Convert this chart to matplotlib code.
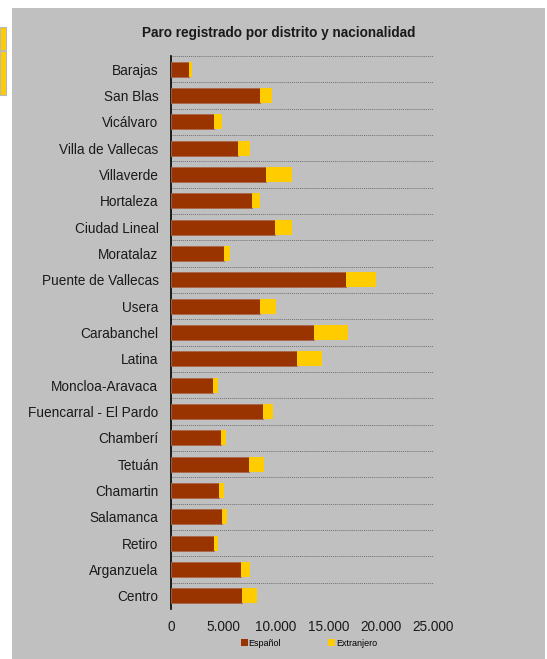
import matplotlib
matplotlib.use("Agg")
import matplotlib.pyplot as plt
from matplotlib.patches import Rectangle, Patch

plt.rcParams['font.family'] = ['Liberation Sans', 'DejaVu Sans']

districts = ["Barajas", "San Blas", "Vicálvaro", "Villa de Vallecas", "Villaverde",
             "Hortaleza", "Ciudad Lineal", "Moratalaz", "Puente de Vallecas", "Usera",
             "Carabanchel", "Latina", "Moncloa-Aravaca", "Fuencarral - El Pardo",
             "Chamberí", "Tetuán", "Chamartin", "Salamanca", "Retiro", "Arganzuela", "Centro"]
espanol = [1720, 8460, 4070, 6420, 9060, 7730, 9890, 5060, 16660, 8460,
           13640, 12020, 3980, 8810, 4740, 7410, 4610, 4870, 4130, 6710, 6740]
extranjero = [280, 1180, 760, 1150, 2480, 760, 1620, 540, 2890, 1530,
              3280, 2390, 510, 950, 480, 1460, 410, 510, 350, 830, 1490]
xticks = [0, 5000, 10000, 15000, 20000, 25000]
xticklabels = ["0", "5.000", "10.000", "15.000", "20.000", "25.000"]
title = "Paro registrado por distrito y nacionalidad"

W, H = 547, 659
fig = plt.figure(figsize=(W / 100, H / 100), dpi=100)
fig.patch.set_facecolor("white")

def px(x0, y0, w, h):
    return (x0 / W, 1 - (y0 + h) / H, w / W, h / H)

# chart area background
bx, by, bw, bh = px(12, 8, 533, 651)
fig.patches.append(Rectangle((bx, by), bw, bh, transform=fig.transFigure,
                             facecolor="#C0C0C0", edgecolor="none", zorder=-5))
# cut-off spreadsheet cells on the left
for (y0, h) in [(27, 23), (51, 44)]:
    cx, cy, cw, ch = px(0, y0, 5.5, h)
    fig.patches.append(Rectangle((cx, cy), cw, ch, transform=fig.transFigure,
                                 facecolor="#FFCC00", edgecolor="#B8B8B8", lw=0.8, zorder=-5))

ax = fig.add_axes(px(171, 56, 262, 553))
ax.set_zorder(1)
ax.set_facecolor("#C0C0C0")
n = len(districts)
pos = list(range(n))
ax.barh(pos, espanol, height=0.58, color="#993300", edgecolor="#A8664A", linewidth=0.6, zorder=3)
ax.barh(pos, extranjero, left=espanol, height=0.58, color="#FFCC00", edgecolor="none", zorder=3)
ax.set_ylim(n - 0.5, -0.5)
ax.set_xlim(0, 25000)
ax.set_yticks(pos)
ax.set_yticklabels(districts, fontsize=9.8, color="#1a1a1a")
ax.set_yticks([i - 0.5 for i in range(n + 1)], minor=True)
ax.grid(which="minor", axis="y", color="#707070", linestyle=(0, (1, 1)), linewidth=0.7, zorder=1)
ax.set_xticks(xticks)
ax.set_xticklabels(xticklabels, fontsize=9.8, color="#1a1a1a")
ax.tick_params(axis="y", which="both", length=0, pad=9)
ax.tick_params(axis="x", length=0, pad=8)
for s in ["top", "right", "bottom"]:
    ax.spines[s].set_visible(False)
ax.spines["left"].set_color("black")
ax.spines["left"].set_linewidth(1.2)

fig.text(278.5 / W, 1 - 32.5 / H, title, ha="center", va="center", fontsize=9.8, fontweight="bold", color="#1a1a1a")

handles = [Patch(facecolor="#993300", edgecolor="none"), Patch(facecolor="#FFCC00", edgecolor="none")]
fig.legend(handles, ["Español", "Extranjero"], loc="center", bbox_to_anchor=(309 / W, 1 - 643 / H),
           ncol=2, frameon=False, fontsize=6.5, handlelength=0.8, handleheight=0.8,
           handletextpad=0.1, columnspacing=5.2)

fig.savefig("out.png", dpi=100, facecolor="white")
